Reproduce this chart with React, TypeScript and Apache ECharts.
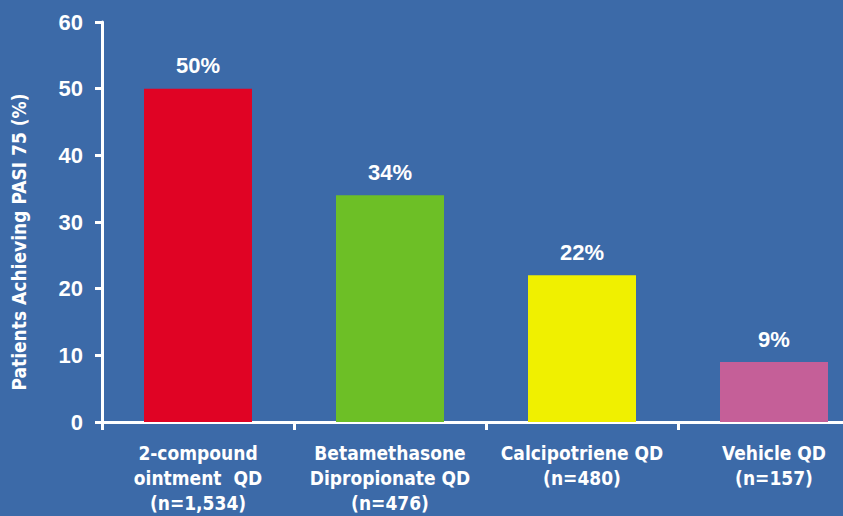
import React, { useEffect, useRef } from "react";
import * as echarts from "echarts";

const categories = [
  "2-compound\nointment  QD\n(n=1,534)",
  "Betamethasone\nDipropionate QD\n(n=476)",
  "Calcipotriene QD\n(n=480)",
  "Vehicle QD\n(n=157)",
];
const values = [50, 34, 22, 9];
const barColors = ["#E00324", "#6DBF26", "#F0F000", "#C55F98"];
const yTicks = { min: 0, max: 60, interval: 10 };
const yTitle = "Patients Achieving PASI 75 (%)";

const BG = "#3C6AA8";
const COND = "'Liberation Sans Narrow', 'DejaVu Sans Condensed', 'Roboto Condensed', sans-serif";
const BOLD = "'Liberation Sans', Arial, sans-serif";

// The plot runs past the right edge, so the chart is drawn wider than the clipped frame.
const FRAME_W = 843;
const CHART_W = 870;
const CHART_H = 516;

export default function App() {
  const ref = useRef<HTMLDivElement>(null);

  useEffect(() => {
    if (!ref.current) return;
    const chart = echarts.init(ref.current, undefined, { renderer: "svg" });
    chart.setOption({
      animation: false,
      backgroundColor: BG,
      grid: { left: 102, top: 22, bottom: 94, right: 0, containLabel: false },
      graphic: [
        {
          type: "text",
          x: 19,
          y: 242,
          rotation: Math.PI / 2,
          style: {
            text: yTitle,
            fill: "#fff",
            font: `bold 19px ${COND}`,
            textAlign: "center",
            textVerticalAlign: "middle",
          },
        },
      ],
      xAxis: {
        type: "category",
        data: categories,
        axisLine: { lineStyle: { color: "#fff", width: 3 } },
        axisTick: { show: true, length: 8, lineStyle: { color: "#fff", width: 3 } },
        axisLabel: {
          interval: 0,
          color: "#fff",
          fontFamily: COND,
          fontWeight: "bold",
          fontSize: 19,
          lineHeight: 25,
          margin: 18,
        },
      },
      yAxis: {
        type: "value",
        min: yTicks.min,
        max: yTicks.max,
        interval: yTicks.interval,
        axisLine: { show: true, lineStyle: { color: "#fff", width: 3 } },
        axisTick: { show: true, length: 7, lineStyle: { color: "#fff", width: 3 } },
        splitLine: { show: false },
        axisLabel: {
          color: "#fff",
          fontFamily: BOLD,
          fontWeight: "bold",
          fontSize: 22,
          margin: 19,
        },
      },
      series: [
        {
          type: "bar",
          barWidth: 108,
          data: values.map((v, i) => ({ value: v, itemStyle: { color: barColors[i] } })),
          label: {
            show: true,
            position: "top",
            distance: 12,
            formatter: (p: any) => `${p.value}%`,
            color: "#fff",
            fontFamily: BOLD,
            fontWeight: "bold",
            fontSize: 22,
          },
        },
      ],
    });
    return () => chart.dispose();
  }, []);

  return (
    <div
      style={{
        position: "absolute",
        left: 0,
        top: 0,
        width: FRAME_W,
        height: CHART_H,
        overflow: "hidden",
      }}
    >
      <div ref={ref} style={{ width: CHART_W, height: CHART_H }} />
    </div>
  );
}
